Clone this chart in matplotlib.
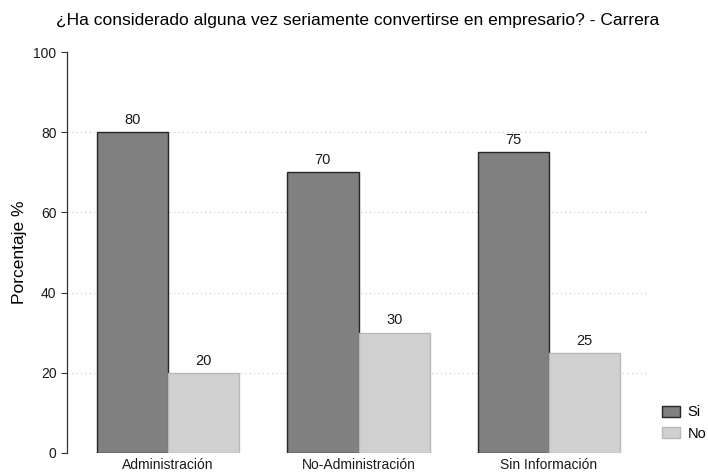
import numpy as np
import matplotlib.pyplot as plt

plt.rcParams['font.family'] = ['Liberation Sans', 'DejaVu Sans']

carreras = ['Administración', 'No-Administración', 'Sin Información']
si_vals = [80, 70, 75]
no_vals = [20, 30, 25]
etiquetas_si = ['80', '70', '75']
etiquetas_no = ['20', '30', '25']

fig = plt.figure(figsize=(7.08, 4.74), dpi=100)
ax = fig.add_axes([67/708, 1-453/474, (650-67)/708, (453-52)/474])

x = np.arange(1, len(carreras)+1)
w = 0.375
b1 = ax.bar(x - w/2, si_vals, w, color='#808080', edgecolor='#262626', linewidth=1.0, label='Si', zorder=3)
b2 = ax.bar(x + w/2, no_vals, w, color='#d0d0d0', edgecolor='#b8b8b8', linewidth=1.0, label='No', zorder=3)

for bar, t in zip(b1, etiquetas_si):
    ax.text(bar.get_x() + bar.get_width()/2, bar.get_height() + 1.3, t,
            ha='center', va='bottom', fontsize=10.5, color='#1a1a1a')
for bar, t in zip(b2, etiquetas_no):
    ax.text(bar.get_x() + bar.get_width()/2, bar.get_height() + 1.3, t,
            ha='center', va='bottom', fontsize=10.5, color='#1a1a1a')

ax.set_xlim(0.47, 3.53)
ax.set_ylim(0, 100)
ax.set_yticks([0, 20, 40, 60, 80, 100])
ax.set_xticks(x)
ax.set_xticklabels(carreras, fontsize=10, color='#1a1a1a')
ax.tick_params(axis='x', length=0, pad=3.5)
ax.tick_params(axis='y', length=4, width=0.8, color='#333333', labelsize=10, labelcolor='#1a1a1a')
for yv in [0, 20, 40, 60, 80]:
    ax.axhline(yv, color='#c8c8c8', linestyle=(0, (1, 3)), linewidth=0.8, zorder=1)

for s in ['top', 'right', 'bottom']:
    ax.spines[s].set_visible(False)
ax.spines['left'].set_color('#333333')
ax.spines['left'].set_linewidth(0.9)

ax.set_ylabel('Porcentaje %', fontsize=12.5, labelpad=5)
fig.text(358/708, 1-20/474, '¿Ha considerado alguna vez seriamente convertirse en empresario? - Carrera',
         ha='center', va='center', fontsize=12.5)

fig.legend(handles=[b1, b2], labels=['Si', 'No'], loc='center left',
           bbox_to_anchor=(656/708, 1-423/474), frameon=False, fontsize=10.5,
           handlelength=1.25, handleheight=0.75, labelspacing=0.5, handletextpad=0.5,
           borderaxespad=0, borderpad=0.4)

fig.savefig('out.png', dpi=100)
